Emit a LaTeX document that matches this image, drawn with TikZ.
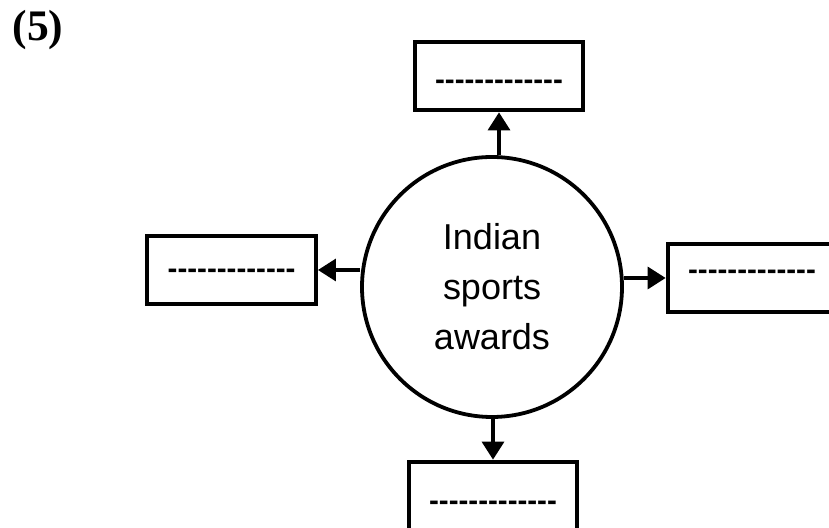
\documentclass[tikz,border=0pt]{standalone}
\usepackage{fontspec}
\setmainfont{Liberation Sans}
\newfontfamily\numfont{Liberation Serif}
\usetikzlibrary{arrows.meta}
% strut (raise, height) then the dashes
\newcommand\blankline[2][0pt]{\rule[#1]{0pt}{#2}-{}-{}-{}-{}-{}-{}-{}-{}-{}-{}-{}-{}-}
\begin{document}
\begin{tikzpicture} [every text node part/.style={align=center}]
        \tikzset{
          awardbox/.style={draw, line width=2.8pt, minimum width=4.22cm, minimum height=1.72cm, inner sep=0pt, font=\fontsize{21}{21}\selectfont\bfseries},
          hub/.style={draw, circle, line width=2.7pt, minimum size=6.5cm, inner sep=0pt, font=\fontsize{25.6}{35.6}\selectfont},
          arr/.style={line width=2.4pt, -{Triangle[length=0.45cm, width=0.55cm]}},
        }
        \useasboundingbox (0,0) rectangle (20.725,13.2);
        \node (num) at (0.95,12.45) {\numfont\bfseries\fontsize{31}{31}\selectfont (5)};
        \node [hub] (hub) at (12.3,6.025) {Indian\\sports\\awards};
        % blank boxes round the hub
        \node [awardbox] (top) at (12.475,11.3) {\blankline{0.9em}};
        \node [awardbox] (left) at (5.79,6.45) {\blankline{0.6em}};
        \node [awardbox] (right) at (18.8,6.25) {\blankline[-0.2em]{0.5em}};
        \node [awardbox] (bot) at (12.325,0.8) {\blankline{0.95em}};
        % 
        \draw [arr] (hub.north -| top.south) -- (top.south);
        \draw [arr] (hub.west |- left.east) -- (left.east);
        \draw [arr] (hub.east |- right.west) -- (right.west);
        \draw [arr] (hub.south -| bot.north) -- (bot.north);
    \end{tikzpicture}
\end{document}
